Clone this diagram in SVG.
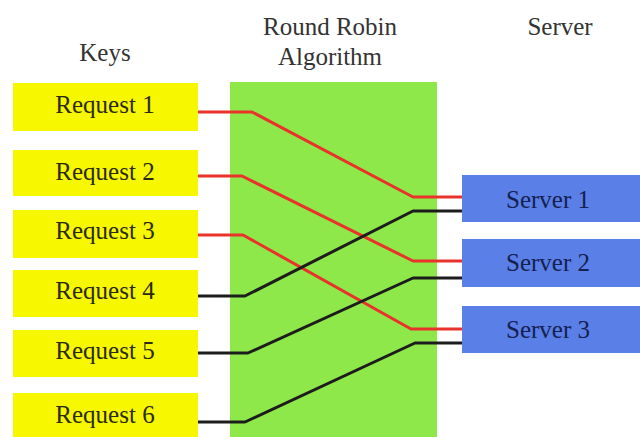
<svg xmlns="http://www.w3.org/2000/svg" width="640" height="437" viewBox="0 0 640 437">
<style>
text{font-family:'Liberation Serif',serif;font-size:25px;text-anchor:middle}
.title{fill:#333333}
.req rect{fill:#f7f700}
.req text{fill:#2a2a10}
.srv rect{fill:#5a7fe6}
.srv text{fill:#142150}
.red{fill:none;stroke:#e8322a;stroke-width:3;stroke-linejoin:round}
.blk{fill:none;stroke:#1c1c1c;stroke-width:3;stroke-linejoin:round}
</style>
<rect width="640" height="437" fill="#ffffff"/>
<g id="titles">
<text class="title" x="105" y="61">Keys</text>
<text class="title" x="330" y="35">Round Robin</text>
<text class="title" x="330" y="65">Algorithm</text>
<text class="title" x="560" y="35">Server</text>
</g>
<g id="algorithm"><rect x="230" y="82" width="207" height="355" fill="#8ee84a"/></g>
<g id="request1" class="req"><rect x="13" y="83" width="185" height="48"/><text x="105" y="113">Request 1</text></g>
<g id="request2" class="req"><rect x="13" y="150" width="185" height="46"/><text x="105" y="180">Request 2</text></g>
<g id="request3" class="req"><rect x="13" y="210" width="185" height="48"/><text x="105" y="239">Request 3</text></g>
<g id="request4" class="req"><rect x="13" y="270" width="185" height="47"/><text x="105" y="299">Request 4</text></g>
<g id="request5" class="req"><rect x="13" y="330" width="185" height="47"/><text x="105" y="359">Request 5</text></g>
<g id="request6" class="req"><rect x="13" y="393" width="185" height="44"/><text x="105" y="423">Request 6</text></g>
<g id="server1" class="srv"><rect x="462" y="175" width="178" height="47"/><text x="548" y="208">Server 1</text></g>
<g id="server2" class="srv"><rect x="462" y="239" width="178" height="48"/><text x="548" y="271">Server 2</text></g>
<g id="server3" class="srv"><rect x="462" y="306" width="178" height="47"/><text x="548" y="338">Server 3</text></g>
<g id="connectors">
<polyline class="red" points="198,112 252,112 413,197 462,197"/>
<polyline class="red" points="198,176 242,176 413,261 462,261"/>
<polyline class="red" points="198,235 243,235 411,329 462,329"/>
<polyline class="blk" points="198,296 245,296 413,211 462,211"/>
<polyline class="blk" points="198,353 248,353 413,278 462,278"/>
<polyline class="blk" points="198,422 245,422 415,343 462,343"/>
</g>
</svg>
